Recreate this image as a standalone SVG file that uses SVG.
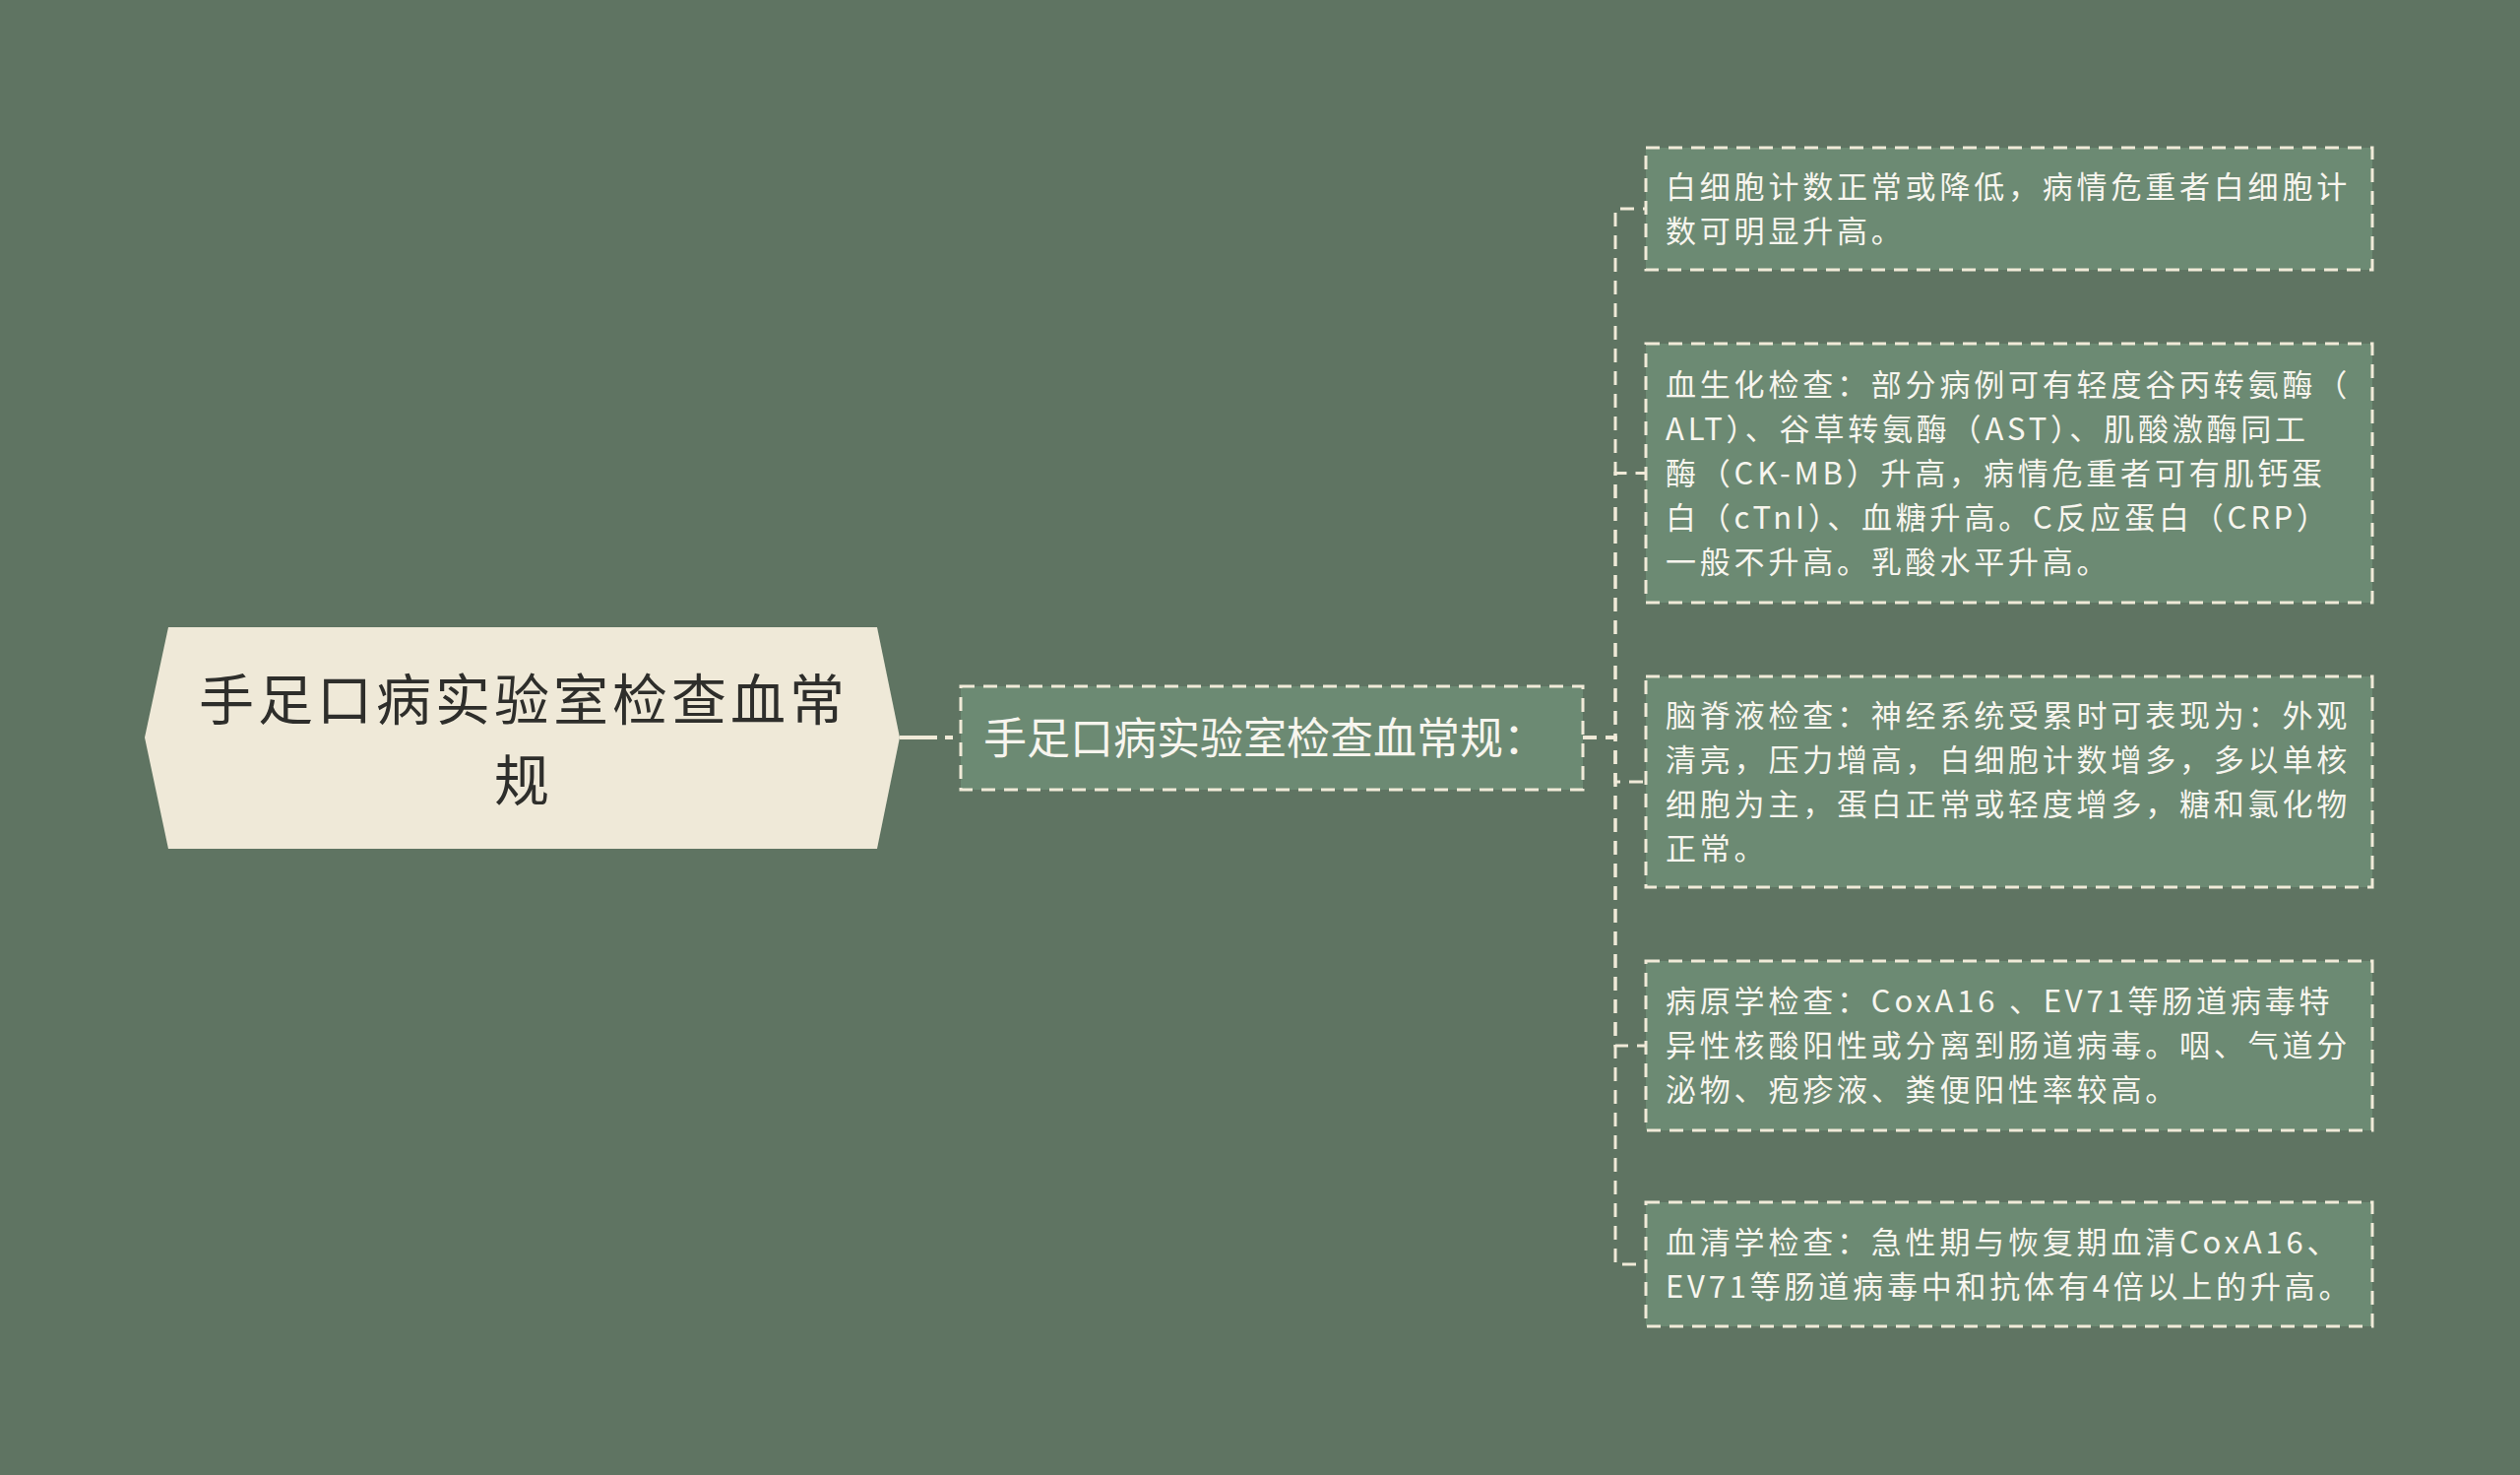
<svg xmlns="http://www.w3.org/2000/svg" width="2560" height="1498" viewBox="0 0 2560 1498">
<style>
.bg{fill:#5f7462}
.leaf{fill:#6c8a73;stroke:#f0ead8;stroke-width:3;stroke-dasharray:14 9}
.lt{font-family:"Noto Sans CJK SC","Noto Sans",sans-serif;font-size:31px;letter-spacing:3.8px;fill:#f7f5ee}
.mt{font-family:"Noto Sans CJK SC","Noto Sans",sans-serif;font-size:44px;fill:#f7f5ee}
.rt{font-family:"Noto Sans CJK SC","Noto Sans",sans-serif;font-size:56px;letter-spacing:4px;fill:#2e2e2b;text-anchor:middle}
.con{fill:none;stroke:#f0ead8;stroke-width:3;stroke-dasharray:14 9}
</style>
<rect class="bg" x="0" y="0" width="2560" height="1498"/>
<g id="connectors">
<line x1="914" y1="749" x2="976" y2="749" stroke="#f0ead8" stroke-width="4" stroke-dasharray="38 8 8 8"/>
<path class="con" d="M1608 749 H1641 V212 H1672"/>
<path class="con" d="M1608 749 H1641 V480.5 H1672"/>
<path class="con" d="M1608 749 H1641 V794 H1672"/>
<path class="con" d="M1608 749 H1641 V1062 H1672"/>
<path class="con" d="M1608 749 H1641 V1284 H1672"/>
</g>
<g id="root">
<polygon points="147,749 171,637 891,637 914,749 891,862 171,862" fill="#efe9d8"/>
<text class="rt" x="532" y="731">手足口病实验室检查血常<tspan x="532" dy="82">规</tspan></text>
</g>
<g id="main">
<rect class="leaf" x="976" y="697" width="632" height="105"/>
<text class="mt" x="999" y="766">手足口病实验室检查血常规：</text>
</g>
<g id="leaf1">
<rect class="leaf" x="1672" y="150" width="738" height="124"/>
<text class="lt" x="1692" y="201">白细胞计数正常或降低，病情危重者白细胞计<tspan x="1692" dy="45">数可明显升高。</tspan></text>
</g>
<g id="leaf2">
<rect class="leaf" x="1672" y="349" width="738" height="263"/>
<text class="lt" x="1692" y="402">血生化检查：部分病例可有轻度谷丙转氨酶（<tspan x="1692" dy="45">ALT）、谷草转氨酶（AST）、肌酸激酶同工</tspan><tspan x="1692" dy="45">酶（CK-MB）升高，病情危重者可有肌钙蛋</tspan><tspan x="1692" dy="45">白（cTnI）、血糖升高。C反应蛋白（CRP）</tspan><tspan x="1692" dy="45">一般不升高。乳酸水平升高。</tspan></text>
</g>
<g id="leaf3">
<rect class="leaf" x="1672" y="687" width="738" height="214"/>
<text class="lt" x="1692" y="738">脑脊液检查：神经系统受累时可表现为：外观<tspan x="1692" dy="45">清亮，压力增高，白细胞计数增多，多以单核</tspan><tspan x="1692" dy="45">细胞为主，蛋白正常或轻度增多，糖和氯化物</tspan><tspan x="1692" dy="45">正常。</tspan></text>
</g>
<g id="leaf4">
<rect class="leaf" x="1672" y="976" width="738" height="172"/>
<text class="lt" x="1692" y="1028">病原学检查：CoxA16 、EV71等肠道病毒特<tspan x="1692" dy="45">异性核酸阳性或分离到肠道病毒。咽、气道分</tspan><tspan x="1692" dy="45">泌物、疱疹液、粪便阳性率较高。</tspan></text>
</g>
<g id="leaf5">
<rect class="leaf" x="1672" y="1221" width="738" height="126"/>
<text class="lt" x="1692" y="1273">血清学检查：急性期与恢复期血清CoxA16、<tspan x="1692" dy="45">EV71等肠道病毒中和抗体有4倍以上的升高。</tspan></text>
</g>
</svg>
